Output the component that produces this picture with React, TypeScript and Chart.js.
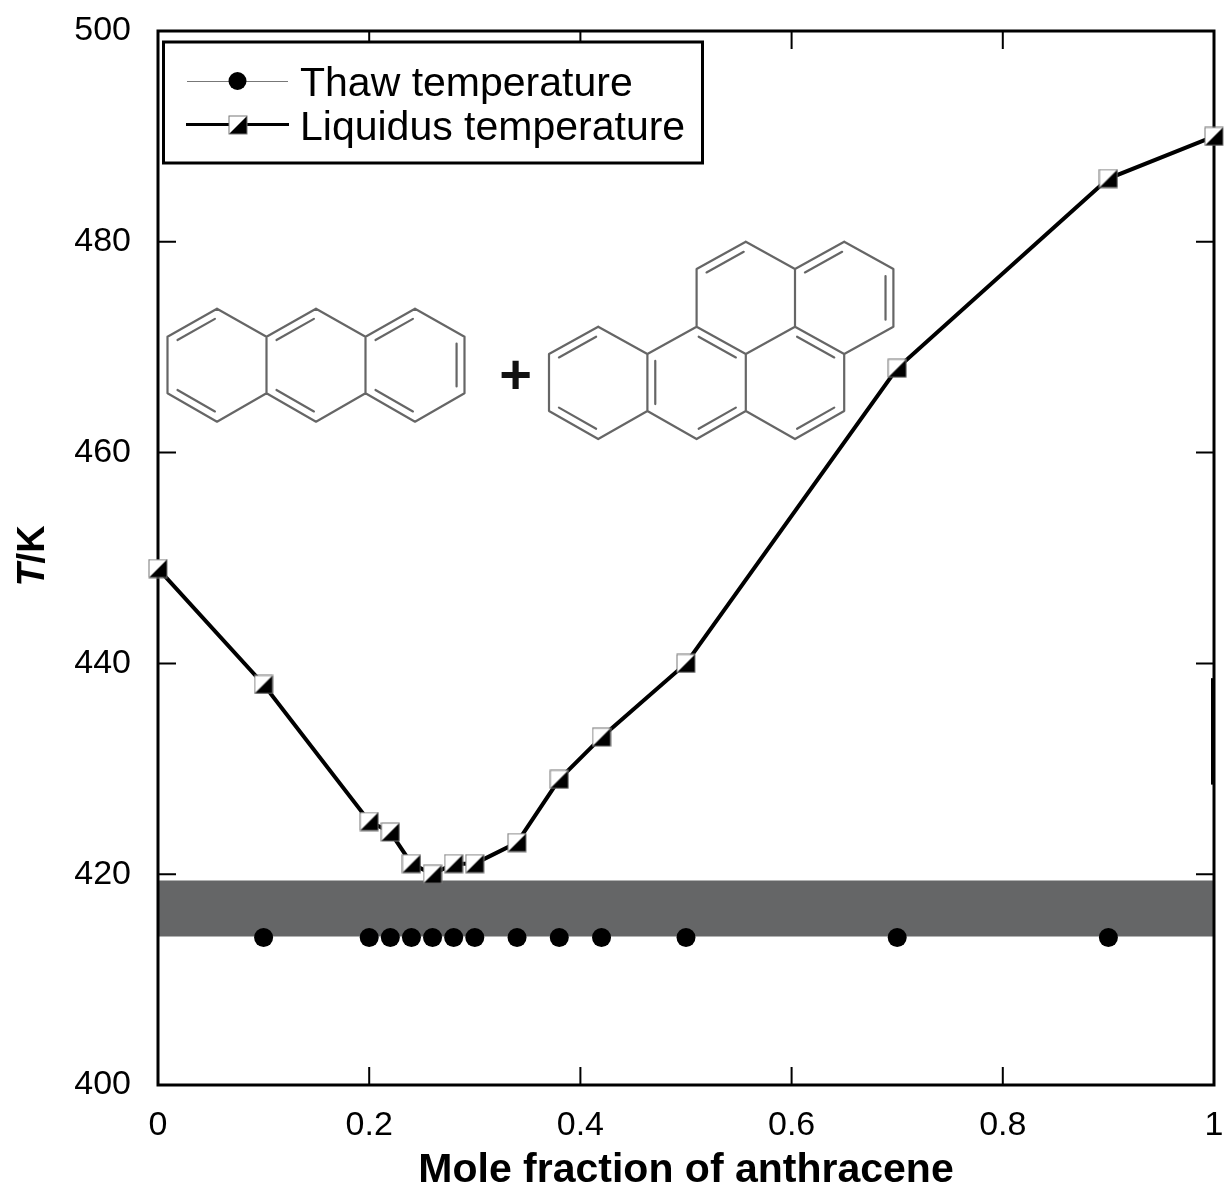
import React, { useEffect, useRef } from "react";
import { Chart, registerables } from "chart.js";

Chart.register(...registerables);

const liquidusX = [0, 0.1, 0.2, 0.22, 0.24, 0.26, 0.28, 0.3, 0.34, 0.38, 0.42, 0.5, 0.7, 0.9, 1];
const liquidusT = [449, 438, 425, 424, 421, 420, 421, 421, 423, 429, 433, 440, 468, 486, 490];
const thawX = [0.1, 0.2, 0.22, 0.24, 0.26, 0.28, 0.3, 0.34, 0.38, 0.42, 0.5, 0.7, 0.9];
const thawT = [414, 414, 414, 414, 414, 414, 414, 414, 414, 414, 414, 414, 414];
const bandX = [0, 1];
const bandTop = [419.4, 419.4];
const bandBottom = [414.1, 414.1];
const seriesNames = ["Thaw temperature", "Liquidus temperature"];
const xTitle = "Mole fraction of anthracene";
const FONT = '"Liberation Sans", Arial, sans-serif';

function halfSquare(): HTMLCanvasElement {
  const c = document.createElement("canvas");
  c.width = 20;
  c.height = 20;
  const g = c.getContext("2d")!;
  g.fillStyle = "#fff";
  g.fillRect(1, 1, 18, 18);
  g.fillStyle = "#000";
  g.beginPath();
  g.moveTo(19, 1);
  g.lineTo(19, 19);
  g.lineTo(1, 19);
  g.closePath();
  g.fill();
  g.strokeStyle = "#777";
  g.lineWidth = 1;
  g.strokeRect(1, 1, 18, 18);
  return c;
}

type Bond = [number, number, number, number];
type Dbl = [number, number, number, number, number, number];

function drawBonds(
  g: CanvasRenderingContext2D,
  X: (i: number) => number,
  levels: number[],
  bonds: Bond[],
  doubles: Dbl[]
) {
  const Y = (j: number) => (levels[Math.floor(j)] + levels[Math.ceil(j)]) / 2;
  g.save();
  g.strokeStyle = "#666";
  g.lineWidth = 2.2;
  g.lineCap = "round";
  g.beginPath();
  for (const [a, b, c, d] of bonds) {
    g.moveTo(X(a), Y(b));
    g.lineTo(X(c), Y(d));
  }
  for (const [a, b, c, d, e, f] of doubles) {
    const cx = X(e), cy = Y(f);
    const t = 0.16;
    const p1x = X(a) + (cx - X(a)) * t;
    const p1y = Y(b) + (cy - Y(b)) * t;
    const p2x = X(c) + (cx - X(c)) * t;
    const p2y = Y(d) + (cy - Y(d)) * t;
    g.moveTo(p1x + (p2x - p1x) * 0.05, p1y + (p2y - p1y) * 0.05);
    g.lineTo(p2x - (p2x - p1x) * 0.05, p2y - (p2y - p1y) * 0.05);
  }
  g.stroke();
  g.restore();
}

// lattice: anthracene
const anthBonds: Bond[] = [
  [0, 1, 1, 0], [1, 0, 2, 1], [2, 1, 3, 0], [3, 0, 4, 1], [4, 1, 5, 0], [5, 0, 6, 1],
  [6, 1, 6, 2], [6, 2, 5, 3], [5, 3, 4, 2], [4, 2, 3, 3], [3, 3, 2, 2], [2, 2, 1, 3],
  [1, 3, 0, 2], [0, 2, 0, 1], [2, 1, 2, 2], [4, 1, 4, 2],
];
const anthDoubles: Dbl[] = [
  [0, 1, 1, 0, 1, 1.5], [0, 2, 1, 3, 1, 1.5],
  [2, 1, 3, 0, 3, 1.5], [2, 2, 3, 3, 3, 1.5],
  [4, 1, 5, 0, 5, 1.5], [6, 1, 6, 2, 5, 1.5], [4, 2, 5, 3, 5, 1.5],
];
const anthY = [308.7, 336.7, 393.3, 421.7];

// lattice: benzo[a]pyrene
const bapBonds: Bond[] = [
  [0, 3, 1, 2], [1, 2, 2, 3], [2, 3, 3, 2], [3, 2, 4, 3], [4, 3, 5, 2], [5, 2, 6, 3],
  [6, 3, 6, 4], [6, 4, 5, 5], [5, 5, 4, 4], [4, 4, 3, 5], [3, 5, 2, 4], [2, 4, 1, 5],
  [1, 5, 0, 4], [0, 4, 0, 3], [2, 3, 2, 4], [4, 3, 4, 4],
  [3, 2, 3, 1], [3, 1, 4, 0], [4, 0, 5, 1], [5, 1, 5, 2],
  [5, 1, 6, 0], [6, 0, 7, 1], [7, 1, 7, 2], [7, 2, 6, 3],
];
const bapDoubles: Dbl[] = [
  [0, 3, 1, 2, 1, 3.5], [0, 4, 1, 5, 1, 3.5],
  [2, 3, 2, 4, 3, 3.5], [3, 2, 4, 3, 3, 3.5], [3, 5, 4, 4, 3, 3.5],
  [5, 2, 6, 3, 5, 3.5], [6, 4, 5, 5, 5, 3.5],
  [3, 1, 4, 0, 4, 1.5], [5, 1, 6, 0, 6, 1.5], [7, 1, 7, 2, 6, 1.5],
];
const bapY = [241.7, 269, 326.7, 354, 411, 439];

const decorPlugin = {
  id: "decor",
  beforeDatasetsDraw(chart: any) {
    const g: CanvasRenderingContext2D = chart.ctx;
    const { left, right, top, bottom } = chart.chartArea;
    g.save();
    g.strokeStyle = "#000";
    g.lineWidth = 2;
    g.beginPath();
    for (const t of chart.scales.x.ticks) {
      const px = chart.scales.x.getPixelForValue(t.value);
      g.moveTo(px, bottom);
      g.lineTo(px, bottom - 18);
      g.moveTo(px, top);
      g.lineTo(px, top + 18);
    }
    for (const t of chart.scales.y.ticks) {
      const py = chart.scales.y.getPixelForValue(t.value);
      g.moveTo(left, py);
      g.lineTo(left + 18, py);
      g.moveTo(right, py);
      g.lineTo(right - 18, py);
    }
    g.stroke();
    drawBonds(g, (i) => 167.5 + i * 49.5, anthY, anthBonds, anthDoubles);
    drawBonds(g, (i) => 549 + i * 49.2, bapY, bapBonds, bapDoubles);
    g.fillStyle = "#111";
    g.font = `bold 56px ${FONT}`;
    g.textAlign = "center";
    g.textBaseline = "middle";
    g.fillText("+", 515.5, 378);
    g.restore();
  },
  afterDatasetDraw(chart: any, args: any) {
    if (args.index !== 1) return;
    const g: CanvasRenderingContext2D = chart.ctx;
    const { left, right, top, bottom } = chart.chartArea;
    g.save();
    g.strokeStyle = "#000";
    g.lineWidth = 3;
    g.strokeRect(left, top, right - left, bottom - top);
    g.lineWidth = 4;
    g.beginPath();
    g.moveTo(right - 1, chart.scales.y.getPixelForValue(438.6));
    g.lineTo(right - 1, chart.scales.y.getPixelForValue(428.5));
    g.stroke();
    g.restore();
  },
  afterDatasetsDraw(chart: any) {
    const g: CanvasRenderingContext2D = chart.ctx;
    g.save();
    // legend
    g.fillStyle = "#fff";
    g.fillRect(163.5, 42, 539, 121);
    g.strokeStyle = "#000";
    g.lineWidth = 3;
    g.strokeRect(163.5, 42, 539, 121);
    g.strokeStyle = "#777";
    g.lineWidth = 1;
    g.beginPath();
    g.moveTo(187, 81.5);
    g.lineTo(288, 81.5);
    g.stroke();
    g.fillStyle = "#000";
    g.beginPath();
    g.arc(237.5, 81, 9, 0, Math.PI * 2);
    g.fill();
    g.strokeStyle = "#000";
    g.lineWidth = 3;
    g.beginPath();
    g.moveTo(186, 124.5);
    g.lineTo(289, 124.5);
    g.stroke();
    g.drawImage(chart.data.datasets[3].pointStyle, 228, 115);
    g.fillStyle = "#000";
    g.font = `41px ${FONT}`;
    g.textAlign = "left";
    g.textBaseline = "alphabetic";
    g.fillText(seriesNames[0], 300, 96);
    g.fillText(seriesNames[1], 300, 140);
    // y title with italic T
    g.translate(44, 556);
    g.rotate(-Math.PI / 2);
    g.textAlign = "left";
    const italic = `italic bold 38px ${FONT}`;
    const bold = `bold 38px ${FONT}`;
    g.font = italic;
    const w1 = g.measureText("T").width;
    g.font = bold;
    const w2 = g.measureText("/K").width;
    g.font = italic;
    g.fillText("T", -(w1 + w2) / 2, 0);
    g.font = bold;
    g.fillText("/K", -(w1 + w2) / 2 + w1, 0);
    g.restore();
  },
};

const noPad = (s: any) => {
  s.paddingTop = 0;
  s.paddingBottom = 0;
  s.paddingLeft = 0;
  s.paddingRight = 0;
};

export default function App() {
  const ref = useRef<HTMLCanvasElement>(null);
  useEffect(() => {
    const marker = halfSquare();
    const chart = new Chart(ref.current!, {
      type: "scatter",
      data: {
        datasets: [
          {
            label: "band top",
            order: 10,
            data: bandX.map((x, i) => ({ x, y: bandTop[i] })),
            showLine: true,
            pointRadius: 0,
            borderWidth: 0,
            borderColor: "#666769",
            fill: false,
          },
          {
            label: "band bottom",
            order: 9,
            data: bandX.map((x, i) => ({ x, y: bandBottom[i] })),
            showLine: true,
            pointRadius: 0,
            borderWidth: 0,
            borderColor: "#666",
            backgroundColor: "#656667",
            fill: "-1",
          },
          {
            label: seriesNames[0],
            order: 1,
            data: thawX.map((x, i) => ({ x, y: thawT[i] })),
            showLine: false,
            pointStyle: "circle",
            pointRadius: 9.5,
            pointBackgroundColor: "#000",
            pointBorderWidth: 0,
            clip: false,
          },
          {
            label: seriesNames[1],
            order: 2,
            data: liquidusX.map((x, i) => ({ x, y: liquidusT[i] })),
            showLine: true,
            borderColor: "#000",
            borderWidth: 4,
            tension: 0,
            pointStyle: marker,
            pointRadius: 10,
            clip: false,
          },
        ],
      } as any,
      options: {
        animation: false,
        responsive: false,
        layout: { padding: { top: 31, right: 13, left: 0, bottom: 0 } },
        plugins: { legend: { display: false }, title: { display: false }, tooltip: { enabled: false } },
        scales: {
          x: {
            type: "linear",
            min: 0,
            max: 1,
            afterFit: (s: any) => {
              s.height = 104;
              noPad(s);
            },
            grid: { display: false },
            border: { display: false },
            ticks: {
              stepSize: 0.2,
              color: "#000",
              maxRotation: 0,
              autoSkip: false,
              padding: 12,
              font: { family: FONT, size: 34 },
              callback: (v: any) => String(+Number(v).toFixed(1)),
            },
            title: {
              display: true,
              text: xTitle,
              color: "#000",
              font: { family: FONT, size: 41, weight: "bold" },
              padding: { top: 0, bottom: -6 },
            },
          },
          y: {
            min: 400,
            max: 500,
            afterFit: (s: any) => {
              s.width = 158;
              noPad(s);
            },
            grid: { display: false },
            border: { display: false },
            ticks: {
              stepSize: 20,
              color: "#000",
              padding: 19,
              font: { family: FONT, size: 34 },
            },
          },
        },
      } as any,
      plugins: [decorPlugin],
    });
    return () => chart.destroy();
  }, []);
  return (
    <canvas
      ref={ref}
      width={1228}
      height={1189}
      style={{ position: "absolute", left: 0, top: 0, display: "block" }}
    />
  );
}
